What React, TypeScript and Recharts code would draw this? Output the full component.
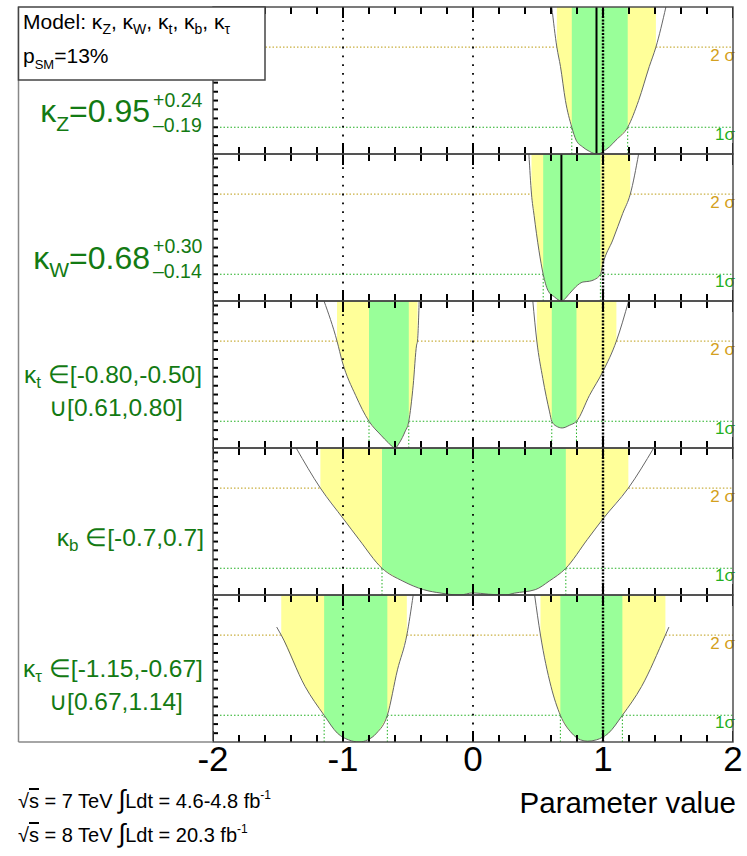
import React from 'react';
import { ComposedChart, Area, Line, XAxis, YAxis, ReferenceLine, Scatter } from 'recharts';

type Pt = [number, number | null];

// ---------- axis / tick values ----------
const xTickValues = [-2, -1.8, -1.6, -1.4, -1.2, -1, -0.8, -0.6, -0.4, -0.2, 0, 0.2, 0.4, 0.6, 0.8, 1, 1.2, 1.4, 1.6, 1.8, 2];
const xLabelValues = [-2, -1, 0, 1, 2];
const yTickValues = [0.33, 0.67, 1, 1.33, 1.67, 2, 2.33, 2.67, 3, 3.33, 3.67, 4, 4.33, 4.67, 5, 5.33];
const refDotted = [-1, 0];
const refSM = 1;
const sigmaLevels = [1, 4];

// ---------- -2 ln Lambda curves (x, value) ----------
const curveKZ: Pt[] = [
  [0.606, 5.5], [0.645, 4.0], [0.673, 3.27], [0.711, 2.0], [0.76, 1.0], [0.793, 0.52], [0.842, 0.27],
  [0.895, 0.1], [0.93, 0.02], [0.95, 0], [0.98, 0.03], [1.01, 0.12], [1.05, 0.27], [1.1, 0.52],
  [1.19, 1.0], [1.274, 2.0], [1.356, 3.27], [1.407, 4.0], [1.484, 5.5],
];
const curveKW: Pt[] = [
  [0.43, 5.5], [0.45, 4.0], [0.47, 3.2], [0.507, 1.9], [0.54, 1.0], [0.576, 0.4], [0.627, 0.15],
  [0.68, 0], [0.743, 0.28], [0.79, 0.53], [0.845, 0.71], [0.896, 0.74], [0.934, 0.8], [0.98, 1.0],
  [1.0, 1.4], [1.075, 2.28], [1.152, 3.28], [1.21, 4.0], [1.274, 5.5],
];
const curveKT: Pt[] = [
  [-1.146, 5.5], [-1.046, 4.0], [-1.005, 3.22], [-0.903, 1.97], [-0.8, 1.0], [-0.708, 0.48],
  [-0.652, 0.2], [-0.6, 0], [-0.563, 0.22], [-0.524, 0.6], [-0.494, 1.0], [-0.46, 2.35],
  [-0.434, 3.85], [-0.427, 4.0], [-0.414, 5.5],
  [0, null],
  [0.46, 5.5], [0.491, 4.0], [0.537, 2.6], [0.589, 1.35], [0.606, 1.0], [0.64, 0.82], [0.686, 0.75],
  [0.742, 0.85], [0.796, 1.0], [0.896, 1.97], [0.998, 2.85], [1.103, 4.0], [1.197, 5.5],
];
const curveKB: Pt[] = [
  [-1.36, 5.5], [-1.174, 4.0], [-0.997, 2.85], [-0.877, 2.08], [-0.7, 1.0], [-0.54, 0.52],
  [-0.38, 0.2], [-0.245, 0.07], [-0.1, 0.0], [0, 0.08], [0.12, 0.03], [0.25, 0.0], [0.318, 0.07],
  [0.479, 0.2], [0.586, 0.52], [0.714, 1.0], [0.88, 2.08], [1.0, 2.85], [1.195, 4.0], [1.39, 5.5],
];
const curveKTau: Pt[] = [
  [-1.51, 4.3], [-1.475, 4.0], [-1.292, 2.08], [-1.145, 1.0], [-1.043, 0.33], [-0.957, 0.08],
  [-0.876, 0], [-0.81, 0.08], [-0.742, 0.33], [-0.659, 1.0], [-0.581, 2.7], [-0.509, 4.0], [-0.46, 5.5],
  [0, null],
  [0.474, 5.5], [0.519, 4.0], [0.6, 2.08], [0.672, 1.0], [0.76, 0.33], [0.827, 0.08], [0.881, 0.03],
  [0.949, 0.08], [1.042, 0.33], [1.149, 1.0], [1.297, 2.08], [1.48, 4.0], [1.507, 4.3],
];

// ---------- 68% / 95% intervals ----------
const sig1KZ = [[0.76, 1.19]];
const sig2KZ = [[0.645, 1.407]];
const sig1KW = [[0.54, 0.98]];
const sig2KW = [[0.45, 1.21]];
const sig1KT = [[-0.8, -0.494], [0.606, 0.796]];
const sig2KT = [[-1.046, -0.427], [0.491, 1.103]];
const sig1KB = [[-0.7, 0.714]];
const sig2KB = [[-1.174, 1.195]];
const sig1KTau = [[-1.145, -0.659], [0.672, 1.149]];
const sig2KTau = [[-1.475, -0.509], [0.519, 1.48]];

const bestKZ = 0.95;
const bestKW = 0.68;

// ---------- layout ----------
const X_MIN = -2;
const X_MAX = 2;
const Y_MAX = 5.5;
const PLOT_LEFT = 213;
const PLOT_W = 520;
const PANEL_H = 147;
const PAD = 30;
const PANEL_TOPS = [7, 154, 301, 448, 595];
const AXIS_H = 50;

const FONT = "'Liberation Sans', Arial, Helvetica, sans-serif";
const NARROW = "'Liberation Sans Narrow', 'Liberation Sans', Arial, sans-serif";
const GREEN_TXT = '#137a13';
const GREEN_BAND = '#99ff99';
const YELLOW_BAND = '#ffff99';
const C1 = '#22b022';
const C2 = '#c9b040';
const C2_TXT = '#d4a020';
const TICK_COLOR = '#000';

const PANELS = [
  { curve: curveKZ, s1: sig1KZ, s2: sig2KZ, best: bestKZ },
  { curve: curveKW, s1: sig1KW, s2: sig2KW, best: bestKW },
  { curve: curveKT, s1: sig1KT, s2: sig2KT, best: null },
  { curve: curveKB, s1: sig1KB, s2: sig2KB, best: null },
  { curve: curveKTau, s1: sig1KTau, s2: sig2KTau, best: null },
];

const rows = (pts: Pt[]) => pts.map(([x, y]) => ({ x, y }));
const bandRows = (pts: Pt[], lo: number, hi: number) =>
  pts
    .filter(([x, y]) => y !== null && x >= lo - 1e-9 && x <= hi + 1e-9)
    .map(([x, y]) => ({ x, r: [y as number, Y_MAX] }));
const outside = (ints: number[][]) => {
  const segs: number[][] = [];
  let start = X_MIN;
  ints.forEach(([lo, hi]) => {
    segs.push([start, lo]);
    start = hi;
  });
  segs.push([start, X_MAX]);
  return segs;
};

const isMajor = (v: number) => Math.abs(v - Math.round(v)) < 1e-6;

// tick marks as scatter points placed through the chart's own scales
const bottomTickRows = xTickValues.map((t) => ({ x: t, y: 0 }));
const topTickRows = xTickValues.map((t) => ({ x: t, y: Y_MAX }));
const leftTickRows = yTickValues.map((v) => ({ x: X_MIN, y: v }));

const BottomTickShape = (props: any) => {
  const { cx, cy, payload } = props;
  if (cx == null || cy == null) return <g />;
  const len = isMajor(payload.x) ? 11 : 7;
  return <path d={`M${cx},${cy}L${cx},${cy - len}`} stroke={TICK_COLOR} strokeWidth={2} fill="none" />;
};
const TopTickShape = (props: any) => {
  const { cx, cy, payload } = props;
  if (cx == null || cy == null) return <g />;
  const len = isMajor(payload.x) ? 11 : 7;
  return <path d={`M${cx},${cy}L${cx},${cy + len}`} stroke={TICK_COLOR} strokeWidth={2} fill="none" />;
};
const LeftTickShape = (props: any) => {
  const { cx, cy } = props;
  if (cx == null || cy == null) return <g />;
  return <path d={`M${cx},${cy}L${cx + 5},${cy}`} stroke={TICK_COLOR} strokeWidth={2} fill="none" />;
};

function Panel({ idx }: { idx: number }) {
  const p = PANELS[idx];
  const last = idx === PANELS.length - 1;
  const h = PANEL_H + (last ? AXIS_H : 0);
  return (
    <div style={{ position: 'absolute', left: PLOT_LEFT - PAD, top: PANEL_TOPS[idx] }}>
      <ComposedChart width={PLOT_W + 2 * PAD} height={h} margin={{ top: 0, right: PAD, bottom: 0, left: PAD }}>
        <XAxis
          type="number"
          dataKey="x"
          domain={[X_MIN, X_MAX]}
          allowDataOverflow
          hide={!last}
          height={last ? AXIS_H : 0}
          ticks={xLabelValues}
          interval={0}
          axisLine={false}
          tickLine={false}
          tickSize={0}
          tickMargin={4}
          tick={{ fontSize: 35, fill: '#000', fontFamily: FONT }}
        />
        <YAxis type="number" domain={[0, Y_MAX]} allowDataOverflow hide />
        {outside(p.s2).map(([a, b], i) => (
          <ReferenceLine key={'h2' + i} segment={[{ x: a, y: sigmaLevels[1] }, { x: b, y: sigmaLevels[1] }]} stroke={C2} strokeWidth={1.2} strokeDasharray="1.5 2" />
        ))}
        {outside(p.s1).map(([a, b], i) => (
          <ReferenceLine key={'h1' + i} segment={[{ x: a, y: sigmaLevels[0] }, { x: b, y: sigmaLevels[0] }]} stroke={C1} strokeWidth={1.2} strokeDasharray="1.5 2" />
        ))}
        {p.s2.map(([lo, hi], i) => (
          <Area key={'b2' + i} data={bandRows(p.curve, lo, hi)} dataKey="r" type="monotone" fill={YELLOW_BAND} fillOpacity={1} stroke="none" isAnimationActive={false} />
        ))}
        {p.s1.map(([lo, hi], i) => (
          <Area key={'b1' + i} data={bandRows(p.curve, lo, hi)} dataKey="r" type="monotone" fill={GREEN_BAND} fillOpacity={1} stroke="none" isAnimationActive={false} />
        ))}
        {p.s1.flat().map((v, i) => (
          <ReferenceLine key={'v1' + i} segment={[{ x: v, y: 0 }, { x: v, y: sigmaLevels[0] }]} stroke={C1} strokeWidth={1} strokeDasharray="1.5 2" />
        ))}
        <Line data={rows(p.curve)} dataKey="y" type="monotone" stroke="#666" strokeWidth={1} dot={false} connectNulls={false} isAnimationActive={false} />
        {refDotted.map((v) => (
          <ReferenceLine key={'d' + v} x={v} stroke="#000" strokeWidth={1.8} strokeDasharray="1.8 7" />
        ))}
        <ReferenceLine x={refSM} stroke="#000" strokeWidth={2.4} strokeDasharray="2 1.4" />
        {p.best !== null && <ReferenceLine x={p.best} stroke="#000" strokeWidth={2} />}
        <Scatter data={bottomTickRows} dataKey="y" shape={BottomTickShape} isAnimationActive={false} />
        <Scatter data={topTickRows} dataKey="y" shape={TopTickShape} isAnimationActive={false} />
        <Scatter data={leftTickRows} dataKey="y" shape={LeftTickShape} isAnimationActive={false} />
      </ComposedChart>
    </div>
  );
}

function SigmaLabels({ top }: { top: number }) {
  const y2 = top + PANEL_H * (1 - sigmaLevels[1] / Y_MAX);
  const y1 = top + PANEL_H * (1 - sigmaLevels[0] / Y_MAX);
  return (
    <g fontFamily={FONT} fontSize={17} textAnchor="end">
      <text x={735} y={y2 + 14} fill={C2_TXT}>2 σ</text>
      <text x={735} y={y1 + 13} fill={C1}>1σ</text>
    </g>
  );
}

export default function App() {
  const bottom = PANEL_TOPS[4] + PANEL_H;
  return (
    <div style={{ position: 'absolute', left: 0, top: 0, width: 747, height: 856, background: '#fff', overflow: 'hidden' }}>
      {PANELS.map((_, i) => (
        <Panel key={i} idx={i} />
      ))}
      <svg width={747} height={856} style={{ position: 'absolute', left: 0, top: 0, pointerEvents: 'none' }}>
        {PANEL_TOPS.map((t, i) => (
          <SigmaLabels key={'s' + i} top={t} />
        ))}
        {PANEL_TOPS.map((t, i) => (
          <rect key={'f' + i} x={PLOT_LEFT} y={t} width={PLOT_W} height={PANEL_H} fill="none" stroke="#444" strokeWidth={1.4} />
        ))}
        <line x1={18.5} y1={7} x2={18.5} y2={bottom} stroke="#888" strokeWidth={1.5} />
        <line x1={18.5} y1={bottom} x2={PLOT_LEFT} y2={bottom} stroke="#888" strokeWidth={1.5} />
        <rect x={18.5} y={7} width={246.5} height={73} fill="#fff" stroke="#444" strokeWidth={1.5} />
        <g fontFamily={FONT} fill="#000">
          <text x={23} y={29} fontSize={21}>
            Model: κ<tspan fontSize={14} dy={5}>Z</tspan>
            <tspan dy={-5}>, κ</tspan><tspan fontSize={14} dy={5}>W</tspan>
            <tspan dy={-5}>, κ</tspan><tspan fontSize={14} dy={5}>t</tspan>
            <tspan dy={-5}>, κ</tspan><tspan fontSize={14} dy={5}>b</tspan>
            <tspan dy={-5}>, κ</tspan><tspan fontSize={14} dy={5}>τ</tspan>
          </text>
          <text x={23} y={63} fontSize={21}>
            p<tspan fontSize={13} dy={6}>SM</tspan><tspan dy={-6}>=13%</tspan>
          </text>
        </g>
        <g fontFamily={FONT} fill={GREEN_TXT}>
          <text x={150} y={122} fontSize={32} textAnchor="end">
            κ<tspan fontSize={21} dy={9}>Z</tspan><tspan dy={-9}>=0.95</tspan>
          </text>
          <text x={153} y={107} fontSize={19.5}>+0.24</text>
          <text x={153} y={132} fontSize={19.5}>–0.19</text>

          <text x={150} y={269} fontSize={32} textAnchor="end">
            κ<tspan fontSize={21} dy={8}>W</tspan><tspan dy={-8}>=0.68</tspan>
          </text>
          <text x={153} y={253} fontSize={19.5}>+0.30</text>
          <text x={153} y={278} fontSize={19.5}>–0.14</text>

          <text x={113} y={383} fontSize={24.5} textAnchor="middle">
            κ<tspan fontSize={17} dy={5}>t</tspan><tspan dy={-5}> ∈[-0.80,-0.50]</tspan>
          </text>
          <text x={116} y={416} fontSize={24.5} textAnchor="middle">∪[0.61,0.80]</text>

          <text x={204} y={546} fontSize={24.5} textAnchor="end">
            κ<tspan fontSize={17} dy={5}>b</tspan><tspan dy={-5}> ∈[-0.7,0.7]</tspan>
          </text>

          <text x={113} y={677} fontSize={24.5} textAnchor="middle">
            κ<tspan fontSize={17} dy={5}>τ</tspan><tspan dy={-5}> ∈[-1.15,-0.67]</tspan>
          </text>
          <text x={116} y={710} fontSize={24.5} textAnchor="middle">∪[0.67,1.14]</text>
        </g>
        <text x={736} y={813} fontSize={29.5} textAnchor="end" fontFamily={FONT} fill="#000">Parameter value</text>
        <g fontFamily={NARROW} fill="#000">
          <text x={18} y={808} fontSize={20}>
            √<tspan style={{ textDecoration: 'overline' }}>s</tspan> = 7 TeV <tspan fontSize={26}>∫</tspan>Ldt = 4.6-4.8 fb
            <tspan fontSize={12} dy={-9}>-1</tspan>
          </text>
          <text x={18} y={842} fontSize={20}>
            √<tspan style={{ textDecoration: 'overline' }}>s</tspan> = 8 TeV <tspan fontSize={26}>∫</tspan>Ldt = 20.3 fb
            <tspan fontSize={12} dy={-9}>-1</tspan>
          </text>
        </g>
      </svg>
    </div>
  );
}
